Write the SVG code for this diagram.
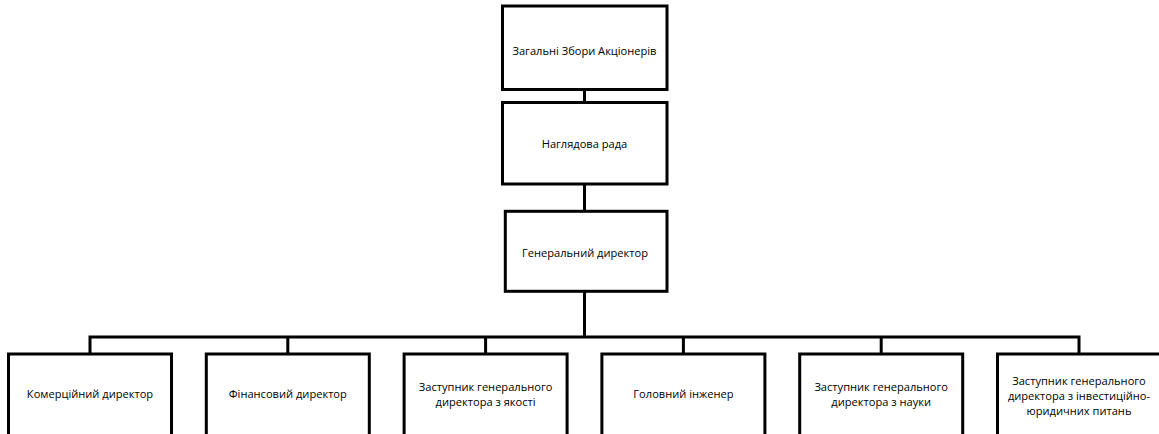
<svg xmlns="http://www.w3.org/2000/svg" width="1159" height="434" viewBox="0 0 1159 434">
<style>
.box{fill:#fff;stroke:#000;stroke-width:3}
.conn{fill:none;stroke:#000;stroke-width:3}
text{font-family:"Open Sans","Noto Sans",sans-serif;font-size:11.1px;fill:#000;text-anchor:middle}
</style>
<rect width="1159" height="434" fill="#fff"/>
<g id="connectors">
<path class="conn" d="M584.5 90V102M584.5 184V211M584.5 291V337M90 337H1079M90 335.5V354M287.8 335.5V354M485.6 335.5V354M683.4 335.5V354M881.2 335.5V354M1079 335.5V354"/>
</g>
<g id="n1"><rect class="box" x="502.5" y="6" width="164.5" height="83.5"/><text x="584.5" y="55">Загальні Збори Акціонерів</text></g>
<g id="n2"><rect class="box" x="502.5" y="102.5" width="164.5" height="81.5"/><text x="584.5" y="148">Наглядова рада</text></g>
<g id="n3"><rect class="box" x="505.3" y="211.3" width="161.7" height="80"/><text x="585" y="256.5">Генеральний директор</text></g>
<g id="b1"><rect class="box" x="8.5" y="354" width="163" height="84"/><text x="90" y="398">Комерційний директор</text></g>
<g id="b2"><rect class="box" x="206.3" y="354" width="163" height="84"/><text x="287.8" y="398">Фінансовий директор</text></g>
<g id="b3"><rect class="box" x="404.1" y="354" width="163" height="84"/><text x="485.6" y="391">Заступник генерального</text><text x="485.6" y="406">директора з якості</text></g>
<g id="b4"><rect class="box" x="601.9" y="354" width="163" height="84"/><text x="683.4" y="398">Головний інженер</text></g>
<g id="b5"><rect class="box" x="799.7" y="354" width="163" height="84"/><text x="881.2" y="391">Заступник генерального</text><text x="881.2" y="406">директора з науки</text></g>
<g id="b6"><rect class="box" x="997.5" y="354" width="163" height="84"/><text x="1079" y="384.5">Заступник генерального</text><text x="1079" y="399.5">директора з інвестиційно-</text><text x="1079" y="414.5">юридичних питань</text></g>
</svg>
